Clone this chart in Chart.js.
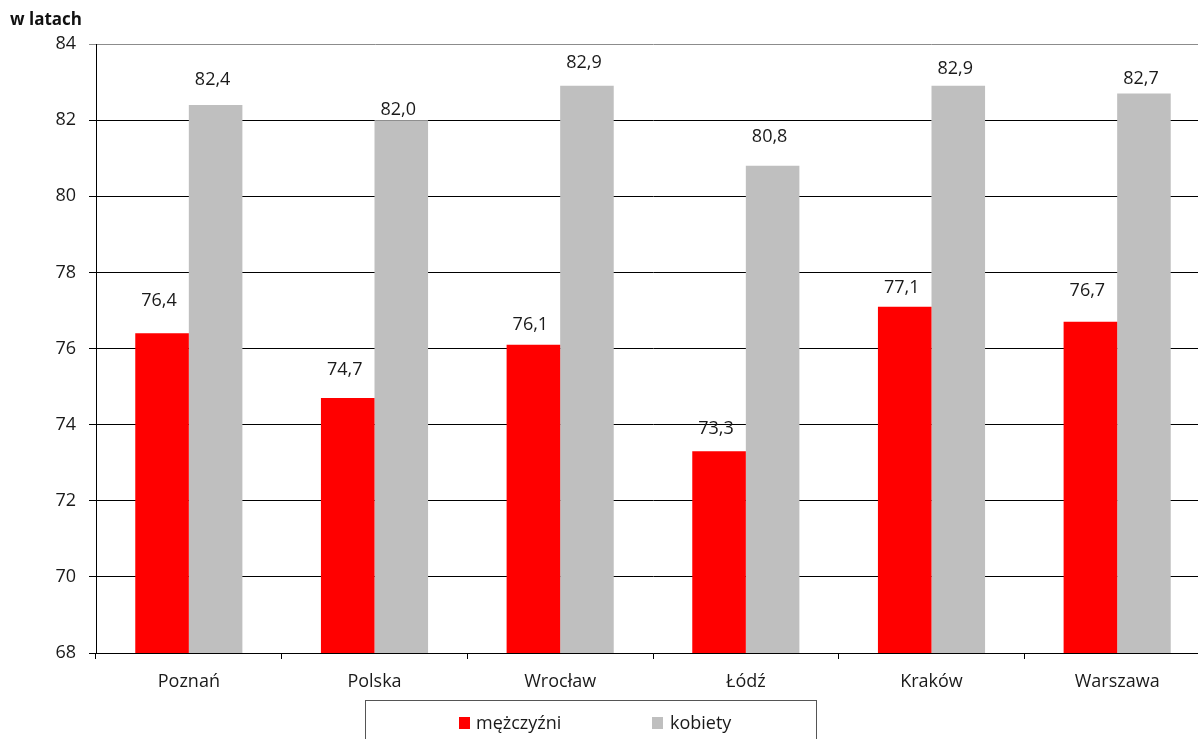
<!DOCTYPE html>
<html lang="pl">
<head>
<meta charset="utf-8">
<script src="https://cdn.jsdelivr.net/npm/chart.js@4.4.1/dist/chart.umd.min.js"></script>
<style>
  html, body { margin: 0; padding: 0; background: #fff; overflow: hidden; }
  #wrap { position: relative; width: 1212px; height: 739px; }
  #legendBox {
    position: absolute; left: 365px; top: 700px; width: 452px; height: 60px;
    border: 1.5px solid #555; box-sizing: border-box;
    font-family: "Open Sans", Lato, sans-serif; font-size: 18px; color: #1a1a1a;
  }
  .sw { position: absolute; top: 16px; width: 11px; height: 12px; }
  .lt { position: absolute; top: 10px; line-height: 22px; }
</style>
</head>
<body>
<div id="wrap">
  <canvas id="chart"></canvas>
  <div id="legendBox">
    <span class="sw" style="left:93px;background:#ff0000"></span><span class="lt" style="left:110px">mężczyźni</span>
    <span class="sw" style="left:286px;background:#bfbfbf"></span><span class="lt" style="left:304px">kobiety</span>
  </div>
</div>
<script>
const cities = ['Poznań', 'Polska', 'Wrocław', 'Łódź', 'Kraków', 'Warszawa'];
const men = [76.4, 74.7, 76.1, 73.3, 77.1, 76.7];
const women = [82.4, 82.0, 82.9, 80.8, 82.9, 82.7];
const seriesNames = ['mężczyźni', 'kobiety'];
const yMin = 68, yMax = 84, yStep = 2;

const FONT = '"Open Sans", Lato, sans-serif';
const TEXT = '#1a1a1a';

// label distance above bar top, as placed in the original
const labelGaps = [
  [32, 28, 20, 22, 19, 31],
  [25, 10, 23, 29, 17, 15]
];

const valueLabels = {
  id: 'valueLabels',
  afterDatasetsDraw(chart) {
    const ctx = chart.ctx;
    ctx.save();
    ctx.font = '18px ' + FONT;
    ctx.fillStyle = TEXT;
    ctx.textAlign = 'center';
    ctx.textBaseline = 'middle';
    chart.data.datasets.forEach((ds, di) => {
      chart.getDatasetMeta(di).data.forEach((bar, i) => {
        const txt = ds.data[i].toFixed(1).replace('.', ',');
        ctx.fillText(txt, bar.x - 3, bar.y - labelGaps[di][i]);
      });
    });
    ctx.restore();
  }
};

const unitTitle = {
  id: 'unitTitle',
  afterDraw(chart) {
    const ctx = chart.ctx;
    ctx.save();
    ctx.font = 'bold 17px ' + FONT;
    ctx.fillStyle = '#111';
    ctx.textBaseline = 'middle';
    ctx.fillText('w latach', 10, 20);
    ctx.restore();
  }
};

new Chart(document.getElementById('chart'), {
  type: 'bar',
  data: {
    labels: cities,
    datasets: [
      { label: seriesNames[0], data: men, backgroundColor: '#ff0000' },
      { label: seriesNames[1], data: women, backgroundColor: '#bfbfbf' }
    ]
  },
  options: {
    responsive: true,
    maintainAspectRatio: false,
    animation: false,
    categoryPercentage: 0.577,
    barPercentage: 1,
    layout: { padding: { left: 0, right: 2, top: 44, bottom: 36 } },
    plugins: { legend: { display: false }, tooltip: { enabled: false } },
    scales: {
      x: {
        grid: { drawOnChartArea: false, drawTicks: true, tickLength: 6, offset: true, color: '#000' },
        border: { color: '#000', width: 1 },
        ticks: { font: { family: FONT, size: 18 }, color: TEXT, padding: 12 },
        afterFit(s) { s.height = 50; }
      },
      y: {
        min: yMin, max: yMax,
        grid: {
          color: ctx => (ctx.tick && ctx.tick.value === yMax) ? '#8c8c8c' : '#000',
          tickLength: 7, lineWidth: 1
        },
        border: { color: '#000', width: 1 },
        ticks: { stepSize: yStep, font: { family: FONT, size: 18 }, color: TEXT, padding: 13 },
        afterFit(s) { s.width = 96; }
      }
    }
  },
  plugins: [valueLabels, unitTitle]
});
</script>
</body>
</html>
